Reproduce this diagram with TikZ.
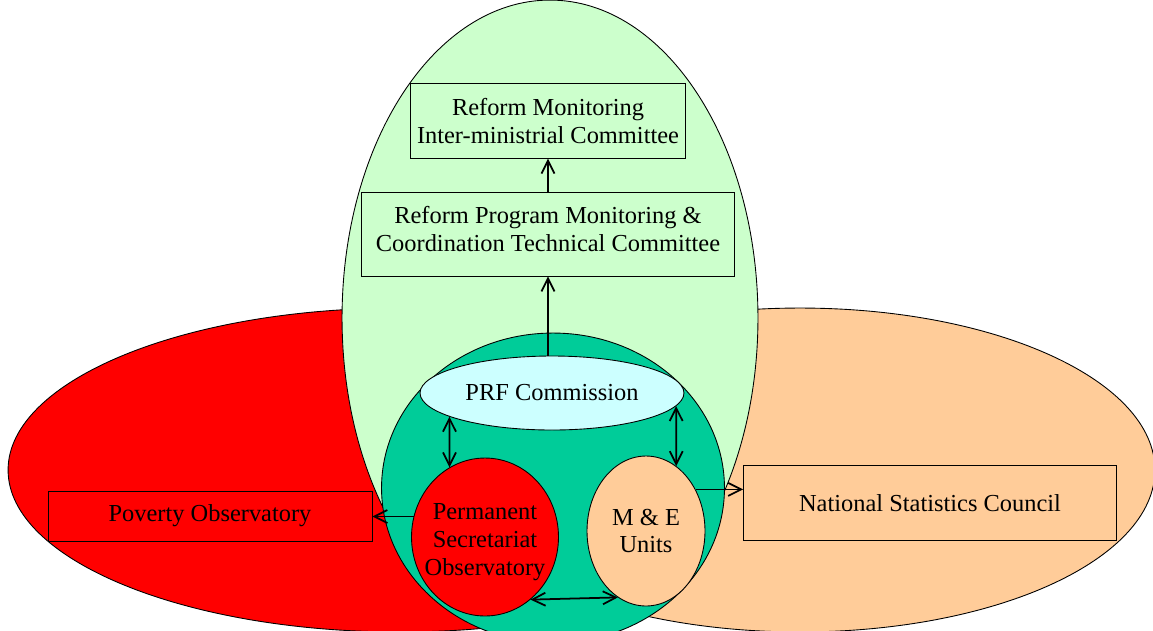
\documentclass[tikz,border=0pt]{standalone}
\usepackage{fontspec}
\setmainfont{Liberation Serif}
\usepackage{tikz}
\usetikzlibrary{positioning,shapes,arrows.meta}
\definecolor{povred}{HTML}{FF0000}
\definecolor{statorange}{HTML}{FFCC99}
\definecolor{reformgreen}{HTML}{CCFFCC}
\definecolor{prfteal}{HTML}{00CC99}
\definecolor{prfcyan}{HTML}{CCFFFF}
\tikzset{
  zone/.style={ellipse,draw,line width=.5pt,inner sep=0pt},
  unit/.style={ellipse,draw,line width=.5pt,inner sep=0pt,align=center},
  box/.style={rectangle,draw,line width=.5pt,align=center,inner sep=0pt},
  link/.style={line width=1pt,-{Straight Barb[length=2.6mm,width=2.6mm]}},
  twoway/.style={line width=1pt,{Straight Barb[length=2.6mm,width=2.6mm]}-{Straight Barb[length=2.6mm,width=2.6mm]}}
}

\begin{document}
\begin{tikzpicture}[x=0.02cm,y=-0.02cm,font=\fontsize{13.9pt}{15.9pt}\selectfont]
\useasboundingbox (0,0) rectangle (1153,630);
\clip (0,0) rectangle (1153,630);
% zones
\node(PovZone)  [zone,fill=povred,minimum width=15.68cm,minimum height=6.48cm]    at (400,470) {};
\node(StatZone) [zone,fill=statorange,minimum width=14.2cm,minimum height=6.48cm] at (800,470) {};
\node(RefZone)  [zone,fill=reformgreen,minimum width=8.32cm,minimum height=12.72cm] at (550,318) {};
\node(PrfZone)  [zone,fill=prfteal,minimum width=6.86cm,minimum height=6.2cm]     at (553,488) {};
% units
\node(PRF) [unit,fill=prfcyan,minimum width=5.28cm,minimum height=1.48cm]   at (552,393) {PRF Commission};
\node(PSO) [unit,fill=povred,minimum width=2.94cm,minimum height=3.16cm,
            label={[align=center,yshift=-3pt]center:Permanent\\Secretariat\\Observatory}] at (485,537) {};
\node(ME)  [unit,fill=statorange,minimum width=2.36cm,minimum height=3cm]   at (646,531) {M \& E\\Units};
% boxes
\node(RPMC) [box,minimum width=7.46cm,minimum height=1.68cm,
             label={[align=center,yshift=3pt]center:Reform Program Monitoring \&\\Coordination Technical Committee}] at (548,234) {};
\node(RMIC) [box,minimum width=5.5cm,minimum height=1.5cm,above=.66cm of RPMC] {Reform Monitoring\\Inter-ministrial Committee};
\node(POV)  [box,minimum width=6.48cm,minimum height=1cm]    at (210,516) {Poverty Observatory};
\node(NSC)  [box,minimum width=7.46cm,minimum height=1.5cm]  at (930,503) {National Statistics Council};
% links
\draw[link] (RPMC) -- (RMIC);
\draw[link] (PRF.north -| RPMC) -- (RPMC.south);
\draw[twoway] (PRF.193) -- (PSO.117);
\draw[twoway] (PRF.354) -- (ME.65);
\draw[twoway] (PSO.306) -- (ME.247);
\draw[link] (PSO.164) -- (POV.east |- PSO.164);
\draw[link] (ME.40) -- (NSC.west |- ME.40);
\end{tikzpicture}
\end{document}
